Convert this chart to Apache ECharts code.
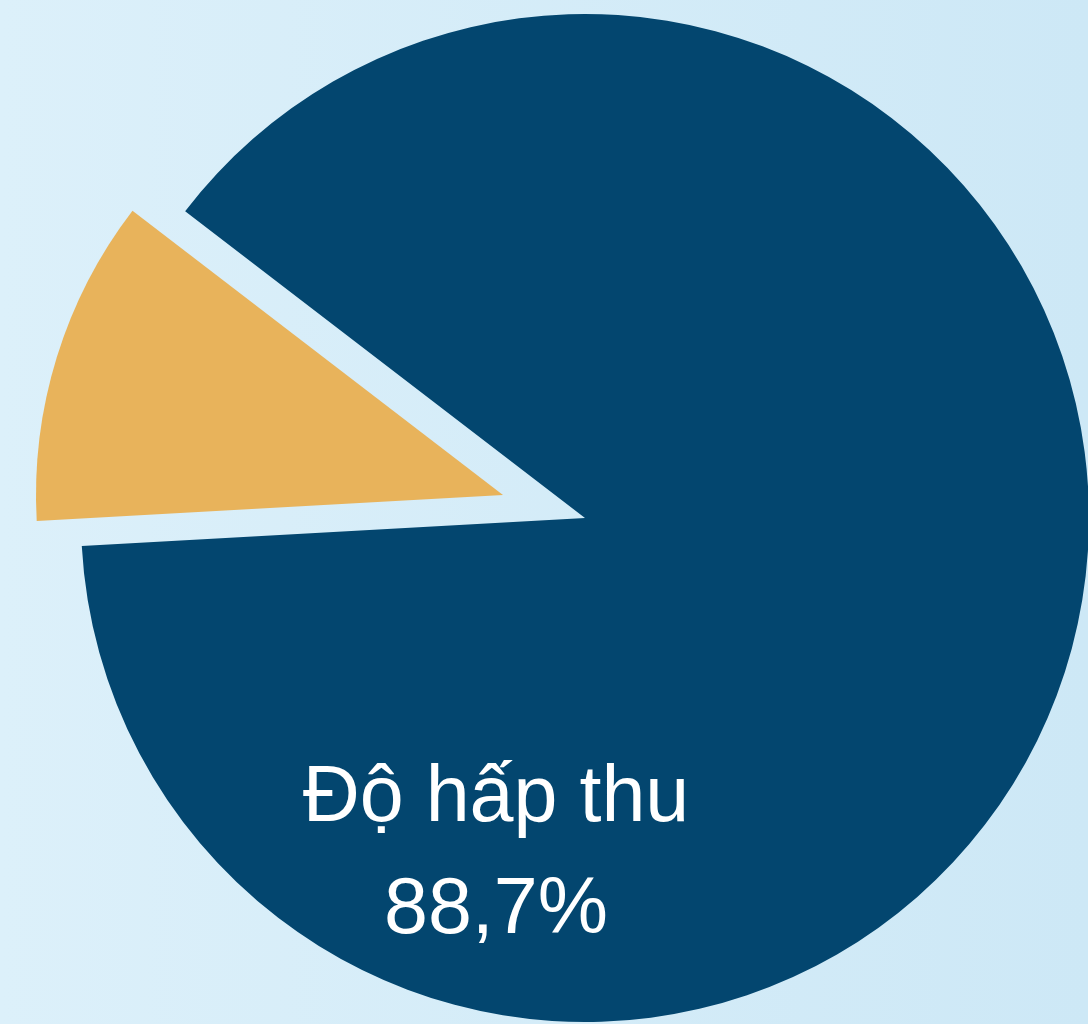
<!DOCTYPE html>
<html>
<head>
<meta charset="utf-8">
<script src="https://cdn.jsdelivr.net/npm/echarts@6/dist/echarts.min.js"></script>
<style>
html, body { margin: 0; padding: 0; }
#chart { width: 1088px; height: 1024px; }
</style>
</head>
<body>
<div id="chart"></div>
<script>
// dữ liệu
var names = ['Độ hấp thu', 'Phản xạ'];
var values = [88.7, 11.3];
var colors = ['#03466f', '#e8b35b'];

function fmt(v) {
    return String(v).replace('.', ',') + '%';
}

// mỗi series chỉ vẽ một lát, lát còn lại trong suốt
function makeData(show) {
    return values.map(function (v, i) {
        return {
            name: names[i],
            value: v,
            itemStyle: { color: i === show ? colors[i] : 'rgba(0,0,0,0)', borderWidth: 0 },
            label: { show: i === 0 && show === 0 }
        };
    });
}

var myChart = echarts.init(document.getElementById('chart'));
var option = {
    animation: false,
    backgroundColor: {
        type: 'linear', x: 0, y: 0, x2: 1, y2: 0,
        colorStops: [{ offset: 0, color: '#dcf0fa' }, { offset: 1, color: '#cde8f6' }]
    },
    series: [{
        type: 'pie',
        silent: true,
        center: [585, 518],
        radius: 504,
        startAngle: 142.5,
        clockwise: true,
        avoidLabelOverlap: false,
        labelLine: { show: false },
        label: {
            position: 'inside',
            formatter: function (p) { return p.name + '\n' + fmt(p.value); },
            color: '#ffffff',
            fontFamily: 'Liberation Sans, Arial, sans-serif',
            fontSize: 79,
            lineHeight: 112
        },
        labelLayout: function () {
            return { x: 496, y: 855, align: 'center', verticalAlign: 'middle' };
        },
        data: makeData(0)
    }, {
        type: 'pie',
        silent: true,
        center: [503, 495],
        radius: 467,
        startAngle: 142.5,
        clockwise: true,
        label: { show: false },
        labelLine: { show: false },
        data: makeData(1)
    }]
};
myChart.setOption(option);
</script>
</body>
</html>
